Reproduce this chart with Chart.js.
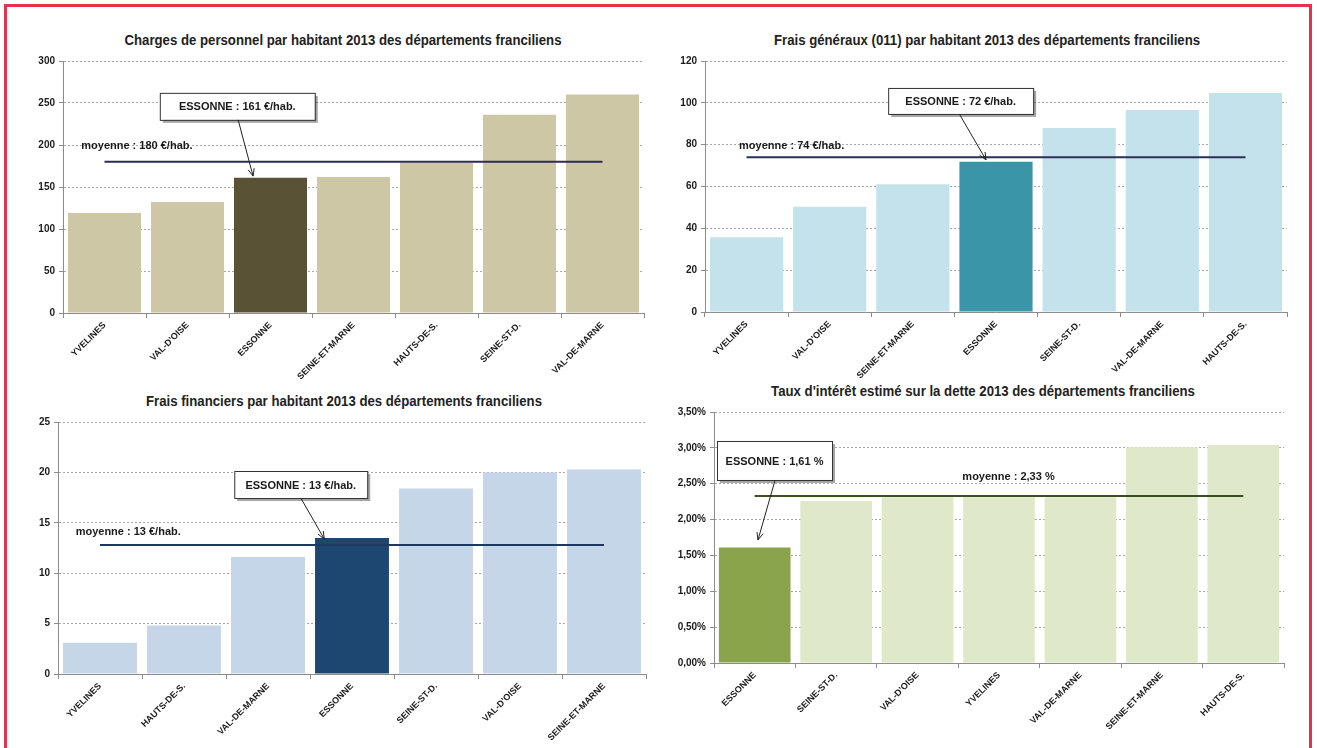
<!DOCTYPE html>
<html>
<head>
<meta charset="utf-8">
<script src="https://cdn.jsdelivr.net/npm/chart.js@4.4.0/dist/chart.umd.min.js"></script>
<style>
  html, body { margin: 0; padding: 0; background: #fff; }
  body { width: 1317px; height: 748px; position: relative; overflow: hidden;
         font-family: "Liberation Sans Narrow", "Arial Narrow", "Liberation Sans", sans-serif; }
  #frame { position: absolute; left: 4px; top: 4px; width: 1308px; height: 770px;
           border: 3px solid #e3324e; box-sizing: border-box; }
  .title { position: absolute; font-weight: bold; font-size: 14.5px; color: #222;
           white-space: nowrap; transform: translate(-50%, -50%) scaleX(0.91); }
  canvas { position: absolute; }
</style>
</head>
<body>
<div id="frame"></div>

<div class="title" style="left:343px;top:40px">Charges de personnel par habitant 2013 des départements franciliens</div>
<div class="title" style="left:987px;top:40px">Frais généraux (011) par habitant 2013 des départements franciliens</div>
<div class="title" style="left:344px;top:401px">Frais financiers par habitant 2013 des départements franciliens</div>
<div class="title" style="left:983px;top:391px">Taux d'intérêt estimé sur la dette 2013 des départements franciliens</div>

<canvas id="persoChart"></canvas>
<canvas id="fraisGenChart"></canvas>
<canvas id="fraisFinChart"></canvas>
<canvas id="tauxChart"></canvas>

<script>
// Charges de personnel (€/hab.)
const persoLabels = ['YVELINES', "VAL-D'OISE", 'ESSONNE', 'SEINE-ET-MARNE', 'HAUTS-DE-S.', 'SEINE-ST-D.', 'VAL-DE-MARNE'];
const persoValues = [119, 132, 161, 162, 179, 236, 260];
const persoMean = 180;
const persoTicks = { max: 300, step: 50 };

// Frais généraux (011) (€/hab.)
const fraisGenLabels = ['YVELINES', "VAL-D'OISE", 'SEINE-ET-MARNE', 'ESSONNE', 'SEINE-ST-D.', 'VAL-DE-MARNE', 'HAUTS-DE-S.'];
const fraisGenValues = [35.7, 50.3, 61.1, 71.8, 88, 96.6, 104.7];
const fraisGenMean = 74;
const fraisGenTicks = { max: 120, step: 20 };

// Frais financiers (€/hab.)
const fraisFinLabels = ['YVELINES', 'HAUTS-DE-S.', 'VAL-DE-MARNE', 'ESSONNE', 'SEINE-ST-D.', "VAL-D'OISE", 'SEINE-ET-MARNE'];
const fraisFinValues = [3.1, 4.8, 11.6, 13.5, 18.4, 20.0, 20.3];
const fraisFinMean = 12.8;
const fraisFinTicks = { max: 25, step: 5 };

// Taux d'intérêt (%)
const tauxLabels = ['ESSONNE', 'SEINE-ST-D.', "VAL-D'OISE", 'YVELINES', 'VAL-DE-MARNE', 'SEINE-ET-MARNE', 'HAUTS-DE-S.'];
const tauxValues = [1.61, 2.26, 2.31, 2.31, 2.31, 3.01, 3.04];
const tauxMean = 2.33;
const tauxTicks = { max: 3.5, step: 0.5 };

const FONT = '"Liberation Sans Narrow", "Arial Narrow", "Liberation Sans", sans-serif';

// draws the "moyenne" label, the ESSONNE callout box and its arrow
const calloutPlugin = {
  id: 'callout',
  afterDatasetsDraw(chart, args, opts) {
    const { ctx, scales: { x, y } } = chart;
    const px = (i) => x.getPixelForValue(i);
    const py = (v) => y.getPixelForValue(v);
    ctx.save();
    ctx.fillStyle = '#1a1a1a';
    ctx.font = 'bold 11px ' + FONT;

    // moyenne label
    ctx.textAlign = 'left';
    ctx.textBaseline = 'middle';
    ctx.fillText(opts.meanText, px(opts.meanLabel[0]), py(opts.meanLabel[1]));

    // box
    const bx = px(opts.box[0]) - opts.boxSize[0] / 2;
    const by = py(opts.box[1]) - opts.boxSize[1] / 2;
    ctx.fillStyle = 'rgba(0,0,0,0.35)';
    ctx.fillRect(bx + 3, by + 3, opts.boxSize[0], opts.boxSize[1]);
    ctx.fillStyle = '#fff';
    ctx.fillRect(bx, by, opts.boxSize[0], opts.boxSize[1]);
    ctx.strokeStyle = '#333';
    ctx.lineWidth = 1;
    ctx.strokeRect(bx + 0.5, by + 0.5, opts.boxSize[0], opts.boxSize[1]);
    ctx.fillStyle = '#1a1a1a';
    ctx.textAlign = 'center';
    ctx.fillText(opts.boxText, bx + opts.boxSize[0] / 2, by + opts.boxSize[1] / 2 + 1);

    // arrow
    const x1 = px(opts.arrowFrom[0]), y1 = py(opts.arrowFrom[1]);
    const x2 = px(opts.arrowTo[0]), y2 = py(opts.arrowTo[1]);
    ctx.strokeStyle = '#222';
    ctx.beginPath();
    ctx.moveTo(x1, y1);
    ctx.lineTo(x2, y2);
    const ang = Math.atan2(y2 - y1, x2 - x1);
    ctx.moveTo(x2, y2);
    ctx.lineTo(x2 - 8 * Math.cos(ang - 0.4), y2 - 8 * Math.sin(ang - 0.4));
    ctx.moveTo(x2, y2);
    ctx.lineTo(x2 - 8 * Math.cos(ang + 0.4), y2 - 8 * Math.sin(ang + 0.4));
    ctx.stroke();
    ctx.restore();
  }
};

function makeChart(id, rect, labels, values, mean, ticks, colors, callout, tickFmt, yw) {
  const canvas = document.getElementById(id);
  const padTop = 10, padRight = 12, xh = 70;
  const left = rect.left - yw, top = rect.top - padTop;
  const width = rect.right + padRight - left;
  const height = rect.bottom + xh - top;
  canvas.style.left = left + 'px';
  canvas.style.top = top + 'px';
  canvas.width = width;
  canvas.height = height;
  canvas.style.width = width + 'px';
  canvas.style.height = height + 'px';

  const essIdx = labels.indexOf('ESSONNE');
  return new Chart(canvas, {
    type: 'bar',
    data: {
      labels: labels,
      datasets: [
        {
          type: 'line',
          data: labels.map(() => mean),
          borderColor: colors.mean,
          borderWidth: 2,
          pointRadius: 0,
          order: 0
        },
        {
          data: values,
          backgroundColor: values.map((v, i) => i === essIdx ? colors.dark : colors.light),
          barPercentage: 0.88,
          categoryPercentage: 1,
          order: 1
        }
      ]
    },
    options: {
      responsive: false,
      animation: false,
      devicePixelRatio: 1,
      layout: { padding: { top: padTop, right: padRight, left: 0, bottom: 0 } },
      plugins: {
        legend: { display: false },
        tooltip: { enabled: false },
        callout: callout
      },
      scales: {
        x: {
          afterFit: (s) => { s.height = xh; },
          grid: { offset: true, drawOnChartArea: false, drawTicks: true, tickLength: 5, color: '#8c8c8c' },
          border: { color: '#8c8c8c', width: 1 },
          ticks: {
            autoSkip: false, minRotation: 45, maxRotation: 45, padding: 2,
            color: '#1a1a1a', font: { family: FONT, size: 9, weight: 'bold' }
          }
        },
        y: {
          min: 0,
          max: ticks.max,
          afterFit: (s) => { s.width = yw; },
          grid: { color: '#a8a8a8', tickColor: '#8c8c8c', tickLength: 4, drawTicks: true },
          border: { color: '#8c8c8c', width: 1, dash: [2, 2] },
          ticks: {
            stepSize: ticks.step, padding: 4, color: '#1a1a1a',
            font: { family: FONT, size: 10, weight: 'bold' },
            callback: tickFmt
          }
        }
      }
    },
    plugins: [calloutPlugin]
  });
}

const intFmt = (v) => v;
const pctFmt = (v) => v.toFixed(2).replace('.', ',') + '%';

makeChart('persoChart', { left: 63, top: 61, right: 644, bottom: 313 },
  persoLabels, persoValues, persoMean, persoTicks,
  { light: '#cdc7a6', dark: '#5a5234', mean: '#2e2a58' },
  { meanText: 'moyenne : 180 €/hab.', meanLabel: [-0.28, 199],
    boxText: 'ESSONNE : 161 €/hab.', box: [1.6, 246], boxSize: [155, 27],
    arrowFrom: [1.61, 230], arrowTo: [1.79, 163] },
  intFmt, 45);

makeChart('fraisGenChart', { left: 705, top: 61, right: 1287, bottom: 312 },
  fraisGenLabels, fraisGenValues, fraisGenMean, fraisGenTicks,
  { light: '#c3e2eb', dark: '#3a95a9', mean: '#2b2f55' },
  { meanText: 'moyenne : 74 €/hab.', meanLabel: [-0.09, 79.4],
    boxText: 'ESSONNE : 72 €/hab.', box: [2.575, 100.9], boxSize: [145, 26],
    arrowFrom: [2.56, 94.6], arrowTo: [2.88, 72.7] },
  intFmt, 45);

makeChart('fraisFinChart', { left: 58, top: 422, right: 646, bottom: 674 },
  fraisFinLabels, fraisFinValues, fraisFinMean, fraisFinTicks,
  { light: '#c5d6e9', dark: '#1d4770', mean: '#1d3a5e' },
  { meanText: 'moyenne : 13 €/hab.', meanLabel: [-0.29, 14.1],
    boxText: 'ESSONNE : 13 €/hab.', box: [2.39, 18.8], boxSize: [133, 27],
    arrowFrom: [2.39, 17.46], arrowTo: [2.67, 13.4] },
  intFmt, 45);

makeChart('tauxChart', { left: 714, top: 412, right: 1284, bottom: 663 },
  tauxLabels, tauxValues, tauxMean, tauxTicks,
  { light: '#dfe8c8', dark: '#8aa44c', mean: '#3a4f1e' },
  { meanText: 'moyenne : 2,33 %', meanLabel: [2.55, 2.594],
    boxText: 'ESSONNE : 1,61 %', box: [0.243, 2.824], boxSize: [115, 39],
    arrowFrom: [0.25, 2.55], arrowTo: [0.04, 1.715] },
  pctFmt, 50);
</script>
</body>
</html>
